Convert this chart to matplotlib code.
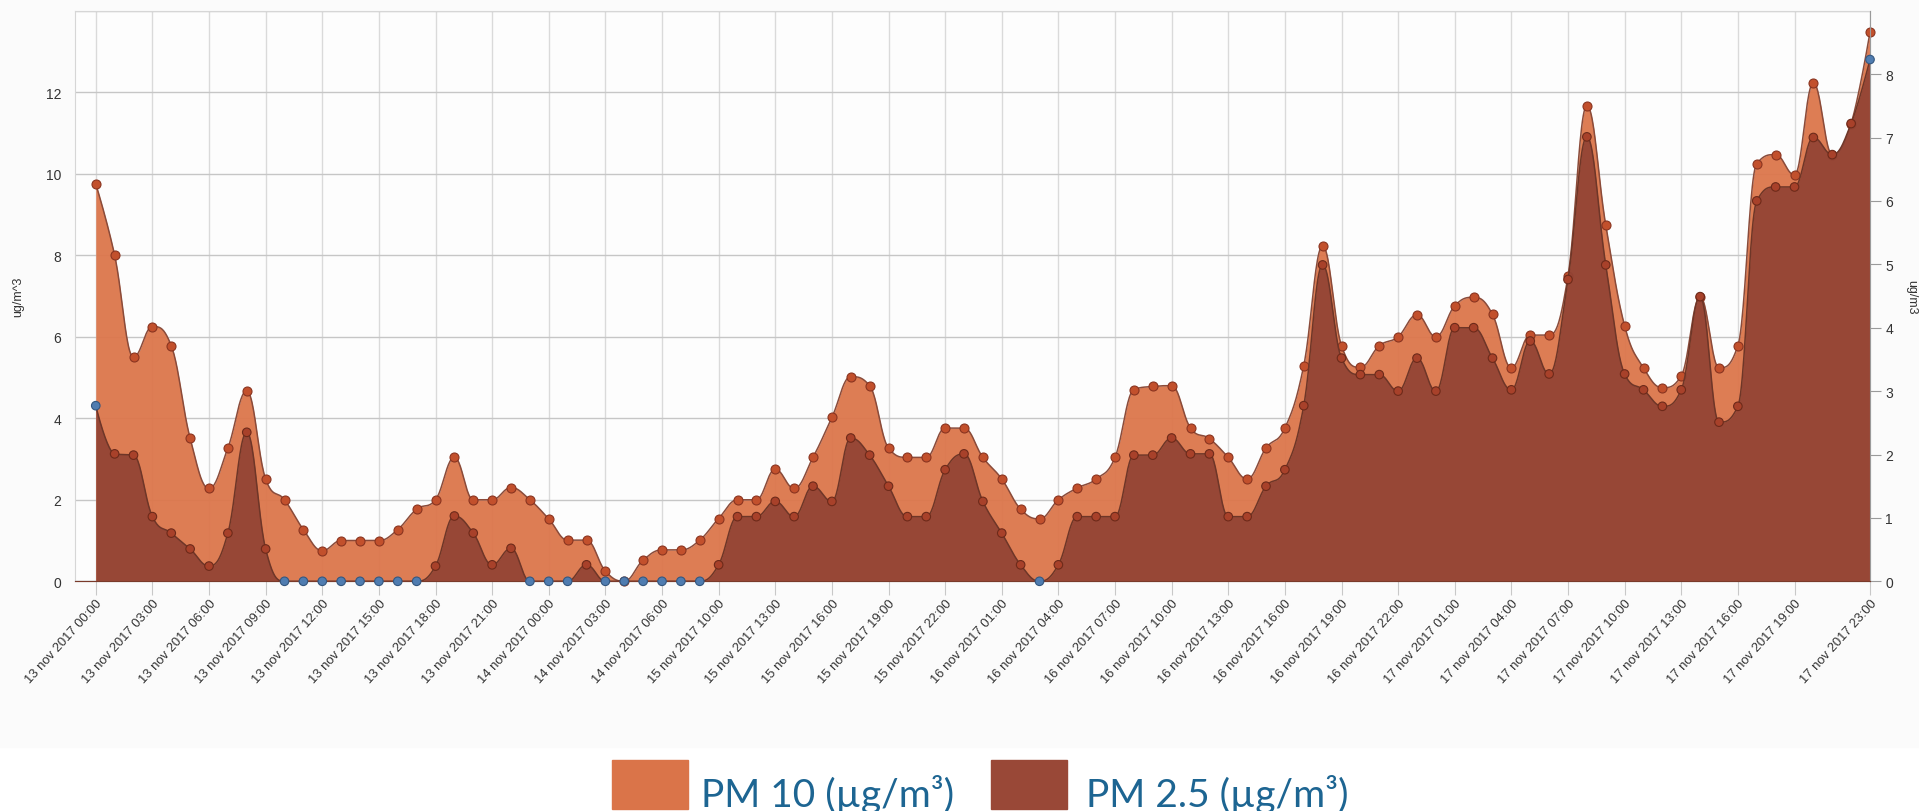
# PM10 / PM2.5 hourly values, 13-17 nov 2017 (areaspline look)
import matplotlib
matplotlib.use('Agg')
import matplotlib.pyplot as plt
import matplotlib.font_manager as fm
from matplotlib.patches import Rectangle
import numpy as np

# PM 10, left axis (ug/m^3)
pm10 = [9.75, 8.0, 5.5, 6.25, 5.78, 3.51, 2.28, 3.27, 4.67, 2.51,
        2.0, 1.27, 0.75, 1.0, 1.0, 1.0, 1.27, 1.77, 2.0, 3.04,
        2.0, 2.0, 2.3, 2.0, 1.53, 1.01, 1.01, 0.25, 0.0, 0.52,
        0.77, 0.77, 1.01, 1.54, 2.0, 2.0, 2.75, 2.28, 3.04, 4.02,
        5.02, 4.8, 3.27, 3.04, 3.04, 3.76, 3.76, 3.04, 2.51, 1.77,
        1.53, 2.0, 2.29, 2.51, 3.04, 4.7, 4.78, 4.8, 3.76, 3.5,
        3.04, 2.51, 3.27, 3.76, 5.29, 8.23, 5.78, 5.25, 5.78, 6.0,
        6.54, 6.0, 6.76, 6.97, 6.55, 5.24, 6.04, 6.04, 7.49, 11.67,
        8.74, 6.27, 5.24, 4.75, 5.04, 6.98, 5.24, 5.78, 10.25, 10.47,
        9.97, 12.23, 10.47, 11.23, 13.47]

# PM 2.5, right axis (ug/m3)
pm25 = [2.77, 2.01, 1.99, 1.02, 0.76, 0.51, 0.24, 0.76, 2.35, 0.51,
        0, 0, 0, 0, 0, 0, 0, 0, 0.24, 1.03,
        0.76, 0.26, 0.52, 0, 0, 0, 0.26, 0, 0, 0,
        0, 0, 0, 0.26, 1.02, 1.02, 1.26, 1.02, 1.5, 1.26,
        2.26, 1.99, 1.5, 1.02, 1.02, 1.76, 2.01, 1.26, 0.76, 0.26,
        0, 0.26, 1.02, 1.02, 1.02, 1.99, 1.99, 2.26, 2.01, 2.01,
        1.02, 1.02, 1.5, 1.76, 2.77, 4.99, 3.52, 3.26, 3.26, 3.0,
        3.52, 3.0, 4.0, 4.0, 3.52, 3.02, 3.79, 3.27, 4.76, 7.01,
        4.99, 3.27, 3.02, 2.76, 3.02, 4.49, 2.51, 2.76, 6.0, 6.22,
        6.22, 7.0, 6.73, 7.22, 8.23]

tick_idx = [0, 3, 6, 9, 12, 15, 18, 21, 24, 27, 30, 33, 36, 39, 42, 45,
            48, 51, 54, 57, 60, 63, 66, 69, 72, 75, 78, 81, 84, 87, 90, 94]
tick_labels = ['13 nov 2017 00:00', '13 nov 2017 03:00', '13 nov 2017 06:00',
               '13 nov 2017 09:00', '13 nov 2017 12:00', '13 nov 2017 15:00',
               '13 nov 2017 18:00', '13 nov 2017 21:00', '14 nov 2017 00:00',
               '14 nov 2017 03:00', '14 nov 2017 06:00', '15 nov 2017 10:00',
               '15 nov 2017 13:00', '15 nov 2017 16:00', '15 nov 2017 19:00',
               '15 nov 2017 22:00', '16 nov 2017 01:00', '16 nov 2017 04:00',
               '16 nov 2017 07:00', '16 nov 2017 10:00', '16 nov 2017 13:00',
               '16 nov 2017 16:00', '16 nov 2017 19:00', '16 nov 2017 22:00',
               '17 nov 2017 01:00', '17 nov 2017 04:00', '17 nov 2017 07:00',
               '17 nov 2017 10:00', '17 nov 2017 13:00', '17 nov 2017 16:00',
               '17 nov 2017 19:00', '17 nov 2017 23:00']

legend_strs = ['PM 10 (µg/m³)', 'PM 2.5 (µg/m³)']


def spline_path(y, smoothing=1.5, steps=24):
    # same control point rule as highcharts "spline" series
    y = np.asarray(y, dtype=float)
    n = len(y)
    x = np.arange(n, dtype=float)
    lcx, lcy = x.copy(), y.copy()
    rcx, rcy = x.copy(), y.copy()
    d = smoothing + 1
    for i in range(1, n - 1):
        lx, ly, nx, ny = x[i-1], y[i-1], x[i+1], y[i+1]
        px, py = x[i], y[i]
        a_x = (smoothing * px + lx) / d
        a_y = (smoothing * py + ly) / d
        b_x = (smoothing * px + nx) / d
        b_y = (smoothing * py + ny) / d
        corr = (b_y - a_y) * (b_x - px) / (b_x - a_x) + py - b_y
        a_y += corr
        b_y += corr
        if a_y > ly and a_y > py:
            a_y = max(ly, py); b_y = 2 * py - a_y
        elif a_y < ly and a_y < py:
            a_y = min(ly, py); b_y = 2 * py - a_y
        if b_y > ny and b_y > py:
            b_y = max(ny, py); a_y = 2 * py - b_y
        elif b_y < ny and b_y < py:
            b_y = min(ny, py); a_y = 2 * py - b_y
        lcx[i], lcy[i], rcx[i], rcy[i] = a_x, a_y, b_x, b_y
    t = np.linspace(0, 1, steps)[:, None]
    xs, ys = [x[:1]], [y[:1]]
    for i in range(1, n):
        P = np.array([[x[i-1], y[i-1]], [rcx[i-1], rcy[i-1]],
                      [lcx[i], lcy[i]], [x[i], y[i]]])
        B = ((1-t)**3 * P[0] + 3*(1-t)**2*t * P[1] + 3*(1-t)*t**2 * P[2] + t**3 * P[3])
        xs.append(B[1:, 0]); ys.append(B[1:, 1])
    return np.concatenate(xs), np.clip(np.concatenate(ys), 0, None)


W, H = 1919, 812
fig = plt.figure(figsize=(W/100, H/100), dpi=100)
fig.patch.set_facecolor('white')
fig.patches.append(Rectangle((0, 1 - 748/H), 1, 748/H, transform=fig.transFigure,
                             color='#fbfbfb', zorder=-10))

ax = fig.add_axes([75/W, 1 - 582.3/H, (1870 - 75)/W, (582.3 - 11.7)/H])
ax.set_facecolor('#fdfdfd')
idx = np.arange(len(pm10))

# PM 10
xs, ys = spline_path(pm10)
ax.fill_between(xs, 0, ys, color='#dc764b', alpha=0.95, lw=0, zorder=2)
ax.plot(xs, ys, color='#8a4b3a', lw=1.1, zorder=3)
ax.scatter(idx, pm10, s=42, c='#c2502c', edgecolors='#8a3420', linewidths=0.8,
           zorder=4, clip_on=False)

ax.set_xlim(-1.1, 94)
ax.set_ylim(0, 14)
ax.set_yticks(range(0, 15, 2))
ax.set_yticklabels([str(v) for v in range(0, 13, 2)] + [''])
ax.set_xticks(tick_idx)
ax.set_xticklabels(tick_labels, rotation=48, ha='right', rotation_mode='anchor',
                   fontsize=9.4, family='Liberation Sans', color='#333333')
ax.tick_params(axis='x', length=10, color='#c8c8c8', pad=1)
ax.tick_params(axis='y', length=0, pad=10, labelsize=10, labelcolor='#333333')
for lab in ax.get_yticklabels():
    lab.set_family('Liberation Sans')
ax.grid(axis='y', color='#c6c6c6', lw=1)
ax.grid(axis='x', color='#dadada', lw=1)
ax.set_axisbelow(True)
for s in ['left', 'top', 'right']:
    ax.spines[s].set_color('#d6d6d6')
ax.spines['bottom'].set_color('#6a6a6a')

# PM 2.5 on its own scale
ax2 = ax.twinx()
xs, ys = spline_path(pm25)
ax2.fill_between(xs, 0, ys, color='#924334', alpha=0.93, lw=0, zorder=2)
ax2.plot(xs, ys, color='#6e3628', lw=1.1, zorder=3)
blue = [i for i, v in enumerate(pm25) if v == 0 or i in (0, len(pm25) - 1)]
cols = ['#4f7cb0' if i in blue else '#a8412a' for i in idx]
edges = ['#34577f' if i in blue else '#6d2a1a' for i in idx]
ax2.scatter(idx, pm25, s=38, c=cols, edgecolors=edges, linewidths=0.8,
            zorder=4, clip_on=False)
ax2.set_ylim(0, 9)
ax2.set_yticks(range(0, 9))
ax2.tick_params(axis='y', length=8, color='#9a9a9a', pad=3, labelsize=10,
                labelcolor='#333333')
for lab in ax2.get_yticklabels():
    lab.set_family('Liberation Sans')
ax2.spines['right'].set_color('#9a9a9a')
ax2.spines['left'].set_visible(False)
ax2.spines['top'].set_visible(False)
ax2.spines['bottom'].set_color('#7a3a2a')

fig.text(18/W, 1 - 297/H, 'ug/m^3', rotation=90, ha='center', va='center',
         fontsize=9, family='Liberation Sans', color='#333333')
fig.text(1911/W, 1 - 297/H, 'ug/m3', rotation=270, ha='center', va='center',
         fontsize=9, family='Liberation Sans', color='#333333')

# legend drawn by hand at the bottom
names = set(f.name for f in fm.fontManager.ttflist)
leg_font = 'Lato' if 'Lato' in names else 'DejaVu Sans'
leg_size = 28 if leg_font == 'Lato' else 26
fig.patches.append(Rectangle((612/W, 2/H), 76/W, 49/H, transform=fig.transFigure,
                             color='#da7449'))
fig.patches.append(Rectangle((991/W, 2/H), 76/W, 49/H, transform=fig.transFigure,
                             color='#994837'))
fig.text(701/W, 5/H, legend_strs[0], fontsize=leg_size, family=leg_font,
         color='#1d6592', va='baseline')
fig.text(1086/W, 5/H, legend_strs[1], fontsize=leg_size, family=leg_font,
         color='#1d6592', va='baseline')

fig.savefig('out.png', dpi=100)
